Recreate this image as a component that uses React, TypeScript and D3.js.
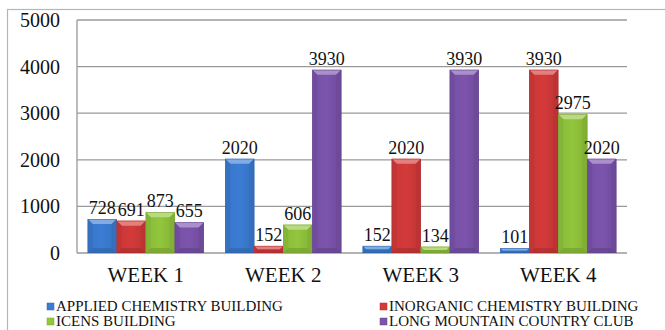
import React, { useEffect, useRef } from "react";
import * as d3 from "d3";

const weeks = ["WEEK 1", "WEEK 2", "WEEK 3", "WEEK 4"];
const seriesNames = [
  "APPLIED CHEMISTRY BUILDING",
  "INORGANIC CHEMISTRY BUILDING",
  "ICENS BUILDING",
  "LONG MOUNTAIN COUNTRY CLUB",
];
const applied = [728, 2020, 152, 101];
const inorganic = [691, 152, 2020, 3930];
const icens = [873, 606, 134, 2975];
const longMountain = [655, 3930, 3930, 2020];
const yTicks = [0, 1000, 2000, 3000, 4000, 5000];
const colors = ["#3b7dd4", "#d43a3a", "#92c63c", "#7c54ad"];

const W = 665;
const H = 330;
const plot = { left: 77, right: 627, top: 20, bottom: 253 };
const FONT = "Liberation Serif";

export default function App() {
  const ref = useRef<SVGSVGElement>(null);

  useEffect(() => {
    const svg = d3.select(ref.current!);
    svg.selectAll("*").remove();
    const seriesVals = [applied, inorganic, icens, longMountain];
    const x0 = d3.scaleBand<string>().domain(weeks).range([plot.left, plot.right]).paddingInner(0.156).paddingOuter(0.078);
    const x1 = d3.scaleBand<number>().domain([0, 1, 2, 3]).range([0, x0.bandwidth()]);
    const y = d3.scaleLinear().domain([0, 5000]).range([plot.bottom, plot.top]);

    const defs = svg.append("defs");
    colors.forEach((col, i) => {
      const g = defs.append("linearGradient").attr("id", `grad${i}`).attr("x1", 0).attr("x2", 1).attr("y1", 0).attr("y2", 0);
      g.append("stop").attr("offset", 0).attr("stop-color", d3.color(col)!.darker(0.15).formatHex());
      g.append("stop").attr("offset", 0.5).attr("stop-color", col);
      g.append("stop").attr("offset", 1).attr("stop-color", d3.color(col)!.darker(0.3).formatHex());
    });

    svg.append("rect").attr("x", 7.5).attr("y", 9.5).attr("width", 700).attr("height", 400)
      .attr("fill", "none").attr("stroke", "#b5b5b5").attr("stroke-width", 1.2);

    const txt = (sel: d3.Selection<any, any, any, any>, size: number) =>
      sel.attr("font-family", FONT).style("font-family", FONT).attr("font-size", size).attr("fill", "#111");

    yTicks.forEach((t) => {
      svg.append("line").attr("x1", plot.left).attr("x2", plot.right).attr("y1", y(t)).attr("y2", y(t))
        .attr("stroke", "#9a9a9a").attr("stroke-width", 1.3);
      txt(svg.append("text").attr("x", 60).attr("y", y(t)).attr("dy", "0.35em").attr("text-anchor", "end").text(String(t)), 20);
    });
    svg.append("line").attr("x1", plot.left).attr("x2", plot.left).attr("y1", plot.top).attr("y2", plot.bottom)
      .attr("stroke", "#9a9a9a").attr("stroke-width", 1.3);

    const labelG = svg.append("g");
    weeks.forEach((wk, wi) => {
      seriesVals.forEach((vals, si) => {
        const v = vals[wi];
        const bx = (x0(wk) as number) + (x1(si) as number);
        const bw = x1.bandwidth();
        const by = y(v);
        const bh = plot.bottom - by;
        const b = Math.min(5, bh / 2, bw / 2);
        const c = d3.color(colors[si])!;
        const light = d3.interpolateRgb(colors[si], "#ffffff")(0.35);
        const dark = c.darker(0.35).formatHex();
        const darker = c.darker(0.6).formatHex();
        const g = svg.append("g");
        g.append("rect").attr("x", bx).attr("y", by).attr("width", bw).attr("height", bh).attr("fill", `url(#grad${si})`);
        g.append("polygon").attr("points", `${bx},${by} ${bx + bw},${by} ${bx + bw - b},${by + b} ${bx + b},${by + b}`).attr("fill", light);
        g.append("polygon").attr("points", `${bx},${by} ${bx + b},${by + b} ${bx + b},${by + bh - b} ${bx},${by + bh}`).attr("fill", dark).attr("opacity", 0.6);
        g.append("polygon").attr("points", `${bx + bw},${by} ${bx + bw - b},${by + b} ${bx + bw - b},${by + bh - b} ${bx + bw},${by + bh}`).attr("fill", dark).attr("opacity", 0.8);
        g.append("polygon").attr("points", `${bx},${by + bh} ${bx + b},${by + bh - b} ${bx + bw - b},${by + bh - b} ${bx + bw},${by + bh}`).attr("fill", darker).attr("opacity", 0.7);
        g.append("rect").attr("x", bx + 0.25).attr("y", by + 0.25).attr("width", bw - 0.5).attr("height", Math.max(0, bh - 0.5))
          .attr("fill", "none").attr("stroke", darker).attr("stroke-width", 0.5);
        txt(labelG.append("text").attr("x", bx + bw / 2).attr("y", by - 5).attr("text-anchor", "middle").text(String(v)), 18);
      });
    });
    labelG.raise();

    weeks.forEach((wk) => {
      txt(svg.append("text").attr("x", (x0(wk) as number) + x0.bandwidth() / 2).attr("y", 282).attr("text-anchor", "middle").text(wk), 21);
    });

    const legendPos = [
      { x: 47, y: 311 },
      { x: 380, y: 311 },
      { x: 47, y: 326 },
      { x: 380, y: 326 },
    ];
    seriesNames.forEach((name, i) => {
      svg.append("rect").attr("x", legendPos[i].x).attr("y", legendPos[i].y - 8).attr("width", 7).attr("height", 7)
        .attr("fill", colors[i]).attr("stroke", d3.color(colors[i])!.darker(0.5).formatHex()).attr("stroke-width", 0.5);
      txt(svg.append("text").attr("x", legendPos[i].x + 9).attr("y", legendPos[i].y).text(name), 15);
    });
  }, []);

  return <svg ref={ref} width={W} height={H} style={{ position: "absolute", left: 0, top: 0, background: "#fff" }} />;
}
